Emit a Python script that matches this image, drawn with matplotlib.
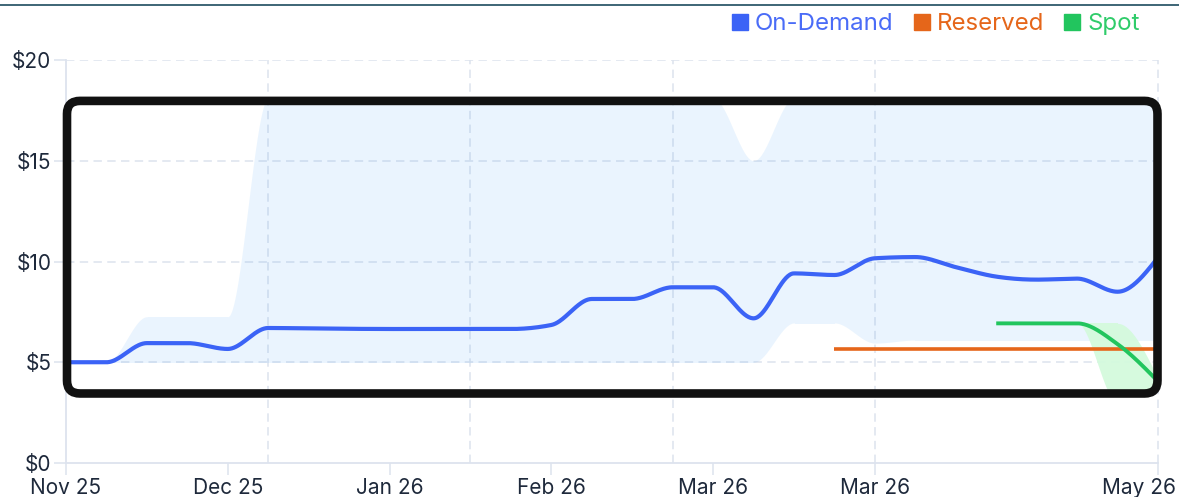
import numpy as np
import matplotlib
matplotlib.use("Agg")
import matplotlib.pyplot as plt
from matplotlib.patches import FancyBboxPatch
from matplotlib.lines import Line2D
from matplotlib.transforms import IdentityTransform, ScaledTranslation

plt.rcParams['font.family'] = ['Inter', 'DejaVu Sans']

# ---------------- data ----------------
tick_idx = [0, 4, 8, 12, 16, 20, 27]
tick_labels = ["Nov 25", "Dec 25", "Jan 26", "Feb 26", "Mar 26", "Mar 26", "May 26"]
y_ticks = [0, 5, 10, 15, 20]
y_labels = ["$0", "$5", "$10", "$15", "$20"]

on_demand = [5.0, 5.0, 5.95, 5.95, 5.66, 6.7, 6.68, 6.66, 6.65, 6.65, 6.65, 6.65,
             6.85, 8.14, 8.14, 8.72, 8.72, 7.18, 9.41, 9.33, 10.16, 10.22,
             9.72, 9.25, 9.1, 9.15, 8.5, 10.2]
on_demand_hi = [5.0, 5.0, 7.26, 7.26, 7.26, 18.1, 18.1, 18.1, 18.1, 18.1, 18.1, 18.1,
                18.1, 18.1, 18.1, 18.1, 18.1, 15.0, 18.1, 18.1, 18.1, 18.1,
                18.1, 18.1, 18.1, 18.1, 18.1, 18.1]
on_demand_lo = [5.0, 5.0, 5.0, 5.0, 5.0, 5.0, 5.0, 5.0, 5.0, 5.0, 5.0, 5.0,
                5.0, 5.0, 5.0, 5.0, 5.0, 5.0, 6.95, 6.95, 5.95, 6.1,
                6.1, 6.1, 6.1, 6.1, 6.1, 6.1]

reserved_idx = [19, 20, 21, 22, 23, 24, 25, 26, 27]
reserved = [5.65, 5.65, 5.65, 5.65, 5.65, 5.65, 5.65, 5.65, 5.65]

spot_idx = [23, 24, 25, 26, 27]
spot = [6.93, 6.93, 6.93, 5.9, 4.05]
spot_hi = [6.93, 6.93, 6.93, 6.93, 4.2]
spot_lo = [6.93, 6.93, 6.93, 3.0, 3.0]

C_BLUE = "#3b63f6"
C_ORANGE = "#e5661a"
C_GREEN = "#22c55e"
C_GRID = "#dde3ee"
C_TEXT = "#1e293b"


def monotone(xs, ys, n=40):
    """d3 curveMonotoneX rendering."""
    xs = np.asarray(xs, float)
    ys = np.asarray(ys, float)
    h = np.diff(xs)
    s = np.diff(ys) / h
    m = len(xs)
    t = np.zeros(m)
    for i in range(1, m - 1):
        h0, h1 = h[i - 1], h[i]
        s0, s1 = s[i - 1], s[i]
        p = (s0 * h1 + s1 * h0) / (h0 + h1)
        t[i] = (np.sign(s0) + np.sign(s1)) * min(abs(s0), abs(s1), 0.5 * abs(p))
    if m > 2:
        t[0] = (3 * s[0] - t[1]) / 2
        t[-1] = (3 * s[-1] - t[-2]) / 2
    else:
        t[:] = s[0]
    X, Y = [], []
    for i in range(m - 1):
        u = np.linspace(0, 1, n, endpoint=(i == m - 2))
        h00 = 2 * u**3 - 3 * u**2 + 1
        h10 = u**3 - 2 * u**2 + u
        h01 = -2 * u**3 + 3 * u**2
        h11 = u**3 - u**2
        X.append(xs[i] + u * h[i])
        Y.append(h00 * ys[i] + h10 * h[i] * t[i] + h01 * ys[i + 1] + h11 * h[i] * t[i + 1])
    return np.concatenate(X), np.concatenate(Y)


W, H = 1179, 497
fig = plt.figure(figsize=(W / 100, H / 100), dpi=100)
ax = fig.add_axes([66 / W, 1 - 463 / H, (1158 - 66) / W, (463 - 60) / H])
ax.set_xlim(0, 27)
ax.set_ylim(0, 20)

# grid
for yv in y_ticks[1:]:
    ax.axhline(yv, color=C_GRID, lw=1.1, dashes=(5.5, 3.5), zorder=0)
for xv in [5, 10, 15, 20, 27]:
    ax.axvline(xv, color=C_GRID, lw=1.1, dashes=(5.5, 3.5), zorder=0, clip_on=False)

# highlight box (in pixel coords for uniform rounding)
bx0, by0 = ax.transData.transform((0, 3.45))
bx1, by1 = ax.transData.transform((27, 17.97))
box = FancyBboxPatch((bx0 + 1, by0), bx1 - bx0 - 1.5, by1 - by0,
                     boxstyle="round,pad=0,rounding_size=13",
                     transform=IdentityTransform(), facecolor="none",
                     edgecolor="#111111", lw=6.2, zorder=10, clip_on=False)
ax.add_patch(box)

xi = np.arange(len(on_demand))
# bands
xu, yu = monotone(xi, on_demand_hi)
_, yl = monotone(xi, on_demand_lo)
f1 = ax.fill_between(xu, yl, yu, color="#3b9cf6", alpha=0.105, lw=0, zorder=1)
f1.set_clip_path(box)

xs_, su = monotone(spot_idx, spot_hi)
_, sl = monotone(spot_idx, spot_lo)
f2 = ax.fill_between(xs_, sl, su, color="#d4fadd", alpha=0.95, lw=0, zorder=2)
f2.set_clip_path(box)

# lines
x, y = monotone(xi, on_demand)
ax.plot(x, y, color=C_BLUE, lw=3.0, solid_capstyle="butt", zorder=5, clip_on=False)
x, y = monotone(reserved_idx, reserved)
ax.plot(x, y, color=C_ORANGE, lw=2.6, solid_capstyle="butt", zorder=4, clip_on=False)
x, y = monotone(spot_idx, spot)
ax.plot(x, y, color=C_GREEN, lw=2.8, solid_capstyle="butt", zorder=5, clip_on=False)

# axes styling
for side in ["top", "right"]:
    ax.spines[side].set_visible(False)
for side in ["left", "bottom"]:
    ax.spines[side].set_color(C_GRID)
    ax.spines[side].set_linewidth(1.3)
ax.set_xticks(tick_idx)
ax.set_xticklabels(tick_labels)
ax.set_yticks(y_ticks)
ax.set_yticklabels(y_labels)
ax.tick_params(axis="both", colors=C_GRID, length=8.5, width=1.1, labelsize=15,
               labelcolor=C_TEXT)
ax.tick_params(axis="x", pad=2)
ax.tick_params(axis="y", pad=2)
# keep last label inside the figure
last = ax.get_xticklabels()[-1]
last.set_horizontalalignment("right")
last.set_transform(last.get_transform() + ScaledTranslation(18 / 100, 0, fig.dpi_scale_trans))

# legend
handles = [Line2D([], [], marker="s", linestyle="none", color=c, markersize=11)
           for c in (C_BLUE, C_ORANGE, C_GREEN)]
fig.legend(handles, ["On-Demand", "Reserved", "Spot"], loc="upper right",
           bbox_to_anchor=(1140 / W, 1 - 13 / H), ncol=3, frameon=False,
           fontsize=17.3, handletextpad=0.3, columnspacing=0.85, borderpad=0,
           borderaxespad=0, handlelength=0.65,
           labelcolor=["#4a6cf7", C_ORANGE, "#2fcc6a"])

# top rule
fig.add_artist(Line2D([0, 1], [1 - 5 / H, 1 - 5 / H], transform=fig.transFigure,
                      color="#1d4b5f", lw=1.2))

fig.savefig("out.png", dpi=100)
